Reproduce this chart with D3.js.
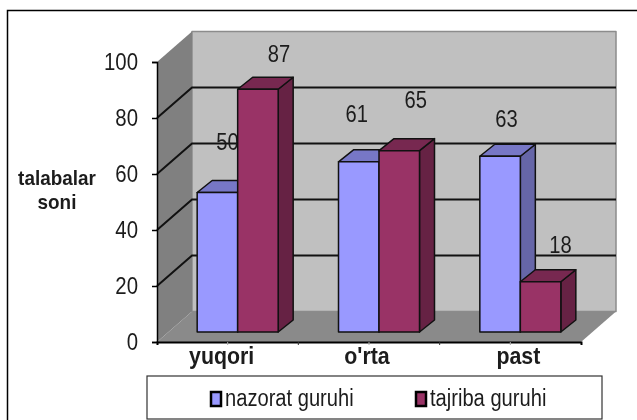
<!doctype html>
<html>
<head>
  <title>talabalar soni</title>
  <script src="https://d3js.org/d3.v7.min.js" charset="utf-8"></script>
  <style>
    html, body { margin: 0; padding: 0; background: #fff; }
    svg { display: block; filter: blur(0.35px); }
    text { font-family: "Liberation Sans", Arial, sans-serif; fill: #1c1c1c; }
  </style>
</head>
<body>
  <svg width="637" height="420"></svg>
  <script>
  var categories = ["yuqori", "o'rta", "past"];
  var seriesNames = ["nazorat guruhi", "tajriba guruhi"];
  var nazorat = [50, 61, 63];
  var tajriba = [87, 65, 18];
  var yTicks = [0, 20, 40, 60, 80, 100];

  var colors = [
    {front: "#9999ff", top: "#7777c6", side: "#6666a8"},
    {front: "#993366", top: "#772850", side: "#662244"}
  ];

  // the walls sit behind the front axis by this much
  var wallDx = 35, wallDy = -30.5;
  // bars stand on the floor part way back
  var barDx = 15, barDy = -12, barFloorDx = 10;

  var svg = d3.select("svg");

  var x = d3.scaleBand().domain(categories).range([157, 581]);
  var y = d3.scaleLinear().domain([0, 100]).range([342, 62]);
  var barY = d3.scaleLinear().domain([0, 100]).range([332, 53]);
  var inner = d3.scaleBand().domain([0, 1]).range([0, 81]);

  function poly(g, pts, fill, stroke) {
    g.append("polygon")
      .attr("points", pts.map(function(p) { return p.join(","); }).join(" "))
      .attr("fill", fill)
      .attr("stroke", stroke || "none")
      .attr("stroke-width", stroke ? 1.5 : 0)
      .attr("stroke-linejoin", "round");
  }

  // the original text is stretched tall, so pull it in sideways
  function squeeze(sel, k) {
    sel.each(function() {
      this.setAttribute("lengthAdjust", "spacingAndGlyphs");
      this.setAttribute("textLength", this.getComputedTextLength() * k);
    });
  }

  // frame, runs off the right and bottom edge
  svg.append("rect")
    .attr("x", 7.5).attr("y", 10.5)
    .attr("width", 660).attr("height", 440)
    .attr("fill", "#fff").attr("stroke", "#000").attr("stroke-width", 1.5);

  var x0 = x.range()[0], x1 = x.range()[1];
  var walls = svg.append("g");

  poly(walls, [[x0 + wallDx, y(100) + wallDy], [x1 + wallDx, y(100) + wallDy], [x1 + wallDx, y(0) + wallDy], [x0 + wallDx, y(0) + wallDy]], "#c0c0c0", "#8c8c8c");
  poly(walls, [[x0, y(100)], [x0 + wallDx, y(100) + wallDy], [x0 + wallDx, y(0) + wallDy], [x0, y(0)]], "#808080");
  poly(walls, [[x0, y(0)], [x0 + wallDx, y(0) + wallDy], [x1 + wallDx, y(0) + wallDy], [x1, y(0)]], "#8a8a8a");

  // grid lines run along the left wall then the back wall
  walls.selectAll(".grid")
    .data(yTicks.filter(function(d) { return d > 0 && d < 100; }))
    .enter().append("polyline")
      .attr("class", "grid")
      .attr("fill", "none")
      .attr("stroke", "#111")
      .attr("stroke-width", 2)
      .attr("points", function(d) {
        return [x0, y(d)] + " " + [x0 + wallDx, y(d) + wallDy] + " " + [x1 + wallDx, y(d) + wallDy];
      });

  var yAxis = svg.append("g")
      .attr("transform", "translate(" + x0 + ",0)")
      .call(d3.axisLeft(y).tickValues(yTicks).tickSize(5).tickPadding(14));
  yAxis.selectAll("text").style("font-size", "24px").call(squeeze, 0.85);
  yAxis.selectAll("line").attr("stroke", "#000").attr("stroke-width", 1.5);
  yAxis.select(".domain").attr("stroke", "#000").attr("stroke-width", 1.5);

  var xLabelShift = [-6, -2, 8];
  var xAxis = svg.append("g")
      .attr("transform", "translate(0," + y(0) + ")")
      .call(d3.axisBottom(x).tickSize(3).tickPadding(1));
  xAxis.selectAll("text")
      .style("font-size", "24px")
      .style("font-weight", "bold")
      .attr("dy", "0.75em")
      .attr("dx", function(d, i) { return xLabelShift[i]; })
      .call(squeeze, 0.89);
  xAxis.selectAll("line").attr("stroke", "#aaa");
  xAxis.select(".domain").attr("stroke", "#000").attr("stroke-width", 2);
  xAxis.selectAll(".edge")
    .data(categories.slice(1))
    .enter().append("line")
      .attr("class", "edge")
      .attr("x1", function(d) { return x(d); })
      .attr("x2", function(d) { return x(d); })
      .attr("y2", 3)
      .attr("stroke", "#333");

  svg.append("g").selectAll("text")
    .data(["talabalar", "soni"])
    .enter().append("text")
      .attr("x", 57)
      .attr("y", function(d, i) { return 185 + i * 23.5; })
      .attr("text-anchor", "middle")
      .style("font-size", "21px")
      .style("font-weight", "bold")
      .text(function(d) { return d; })
      .call(squeeze, 0.9);

  // hand placed in the original: label shift from bar centre and lift above the bar top
  var labelShift = [[10, -2, 6.5], [21, 16.5, 20]];
  var labelLift = [[43, 40, 29], [27, 43, 29]];

  var series = [nazorat, tajriba];

  // left to right so each bar covers the one before, same for labels
  categories.forEach(function(cat, c) {
    series.forEach(function(values, s) {
      var v = values[c];
      var w = inner.bandwidth();
      var left = x(cat) + x.bandwidth() / 2 + barFloorDx - 40.5 + inner(s);
      var right = left + w;
      var topY = barY(v), baseY = barY(0);
      var g = svg.append("g").attr("class", "bar");

      poly(g, [[right, topY], [right + barDx, topY + barDy], [right + barDx, baseY + barDy], [right, baseY]], colors[s].side, "#111");
      poly(g, [[left, topY], [left + barDx, topY + barDy], [right + barDx, topY + barDy], [right, topY]], colors[s].top, "#111");
      poly(g, [[left, topY], [right, topY], [right, baseY], [left, baseY]], colors[s].front, "#111");

      svg.append("text")
        .attr("class", "value")
        .attr("x", left + w / 2 + labelShift[s][c])
        .attr("y", topY - labelLift[s][c])
        .attr("text-anchor", "middle")
        .style("font-size", "24px")
        .text(v)
        .call(squeeze, 0.84);
    });
  });

  // legend, cut by the bottom of the picture
  var legend = svg.append("g").attr("transform", "translate(147,376)");
  legend.append("rect")
    .attr("width", 455).attr("height", 43)
    .attr("fill", "#fff").attr("stroke", "#333").attr("stroke-width", 1.2);

  var legendX = d3.scalePoint().domain(seriesNames).range([64, 269]);
  seriesNames.forEach(function(name, s) {
    var item = legend.append("g").attr("transform", "translate(" + legendX(name) + ",0)");
    item.append("rect")
      .attr("y", 16).attr("width", 10).attr("height", 14)
      .attr("fill", colors[s].front).attr("stroke", "#000").attr("stroke-width", 2.5);
    item.append("text")
      .attr("x", 14).attr("y", 30)
      .style("font-size", "23px")
      .text(name)
      .call(squeeze, 0.875);
  });
  </script>
</body>
</html>
